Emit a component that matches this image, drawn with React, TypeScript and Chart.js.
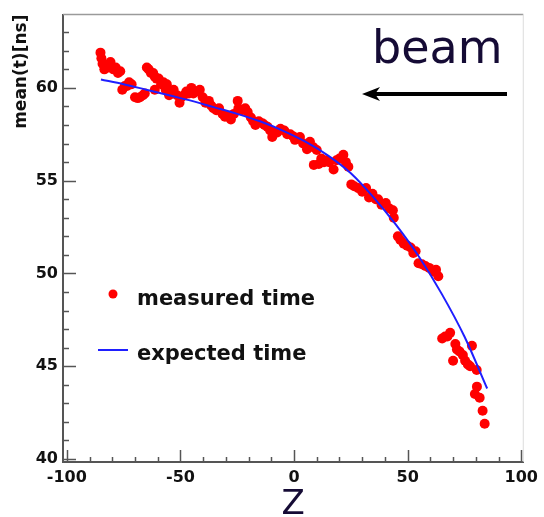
import { useEffect, useRef } from 'react';
import { Chart, registerables } from 'chart.js';

Chart.register(...registerables);

// ---- data ----
const zMeasured = [
  -85.2, -84.8, -84.3, -83.5, -82.5, -81.5, -80.8, -79.5, -78.5, -77.5, -76.5, -75.6, -74.5, -73.5, -72.6, -71.5,
  -70, -68.8, -67.8, -66.5, -65.7, -64.8, -64, -63, -62, -61.3, -60.5, -61.3, -59.6, -58.5, -57.5, -56.5,
  -56, -55, -54, -53, -51.5, -50.4, -49.6, -48.5, -47.4, -46.3, -45.2, -44.3, -43, -41.5, -40.2, -39,
  -37.5, -36.5, -35.5, -34.2, -33, -31.5, -30.4, -29, -27.8, -26.5, -24.8, -24.5, -23, -21.5, -20.4, -19,
  -18, -17, -15.5, -14, -13, -11.7, -10.5, -9.6, -8.5, -7.4, -6, -4.3, -3, -1.7, -0.5, 0.4,
  1.5, 2.6, 4, 5.7, 7, 8.5, 8.7, 10, 10.9, 12, 13.2, 14.3, 15.5, 17.4, 18.7, 20,
  21.7, 22.8, 23.9, 25.2, 26.5, 28.3, 30, 31.7, 33, 34.5, 36, 37, 38.5, 40.4, 42, 43.5,
  43.9, 45.7, 46.8, 48.3, 49.8, 51.3, 52.5, 53.5, 54.8, 56.3, 57.8, 59.5, 61.3, 62.5, 63.5, 65.2,
  66.5, 67.5, 68.7, 70, 71, 71.7, 72.8, 74.3, 75.3, 76.5, 77.5, 78.3, 79.6, 80.4, 80.5, 81.7,
  83, 83.9,
];
const tMeasured = [
  61.9, 61.6, 61.3, 61.0, 61.2, 61.1, 61.4, 61.0, 61.1, 60.8, 60.9, 59.9, 60.1, 60.1, 60.3, 60.2,
  59.5, 59.45, 59.5, 59.6, 59.7, 61.1, 61.0, 60.8, 60.8, 60.6, 60.5, 59.9, 60.5, 60.2, 60.3, 59.9,
  60.2, 59.6, 59.8, 59.9, 59.6, 59.2, 59.5, 59.6, 59.8, 59.7, 60.0, 59.7, 59.8, 59.9, 59.5, 59.2,
  59.3, 59.05, 58.9, 58.8, 58.9, 58.6, 58.45, 58.5, 58.3, 58.6, 59.3, 58.9, 58.8, 58.9, 58.7, 58.4,
  58.2, 58.0, 58.2, 58.1, 58.0, 57.9, 57.7, 57.35, 57.6, 57.6, 57.8, 57.7, 57.5, 57.5, 57.4, 57.2,
  57.3, 57.35, 57.0, 56.7, 57.1, 56.8, 55.85, 56.65, 55.9, 56.2, 56.0, 56.1, 56.0, 55.6, 56.1, 56.2,
  56.4, 56.0, 55.75, 54.8, 54.7, 54.6, 54.4, 54.6, 54.1, 54.3, 54.0, 54.0, 53.7, 53.8, 53.5, 53.4,
  53.0, 52.0, 51.8, 51.6, 51.5, 51.4, 51.1, 51.2, 50.55, 50.5, 50.4, 50.3, 50.1, 50.2, 49.85, 46.5,
  46.6, 46.6, 46.8, 45.3, 46.2, 45.9, 45.8, 45.6, 45.3, 45.1, 45.0, 46.1, 43.5, 44.8, 43.9, 43.3,
  42.6, 41.9,
];
const zExpected = [-85, -75, -65, -55, -45, -35, -25, -15, -5, 5, 15, 25, 35, 45, 55, 65, 75, 85];
const tExpected = [60.45, 60.2, 59.9, 59.6, 59.3, 58.95, 58.6, 58.2, 57.7, 57.1, 56.35, 55.4, 54.1, 52.6, 50.9, 48.9, 46.6, 43.8];
const xTickValues = [-100, -50, 0, 50, 100];
const yTickValues = [40, 45, 50, 55, 60];
const measuredLabel = 'measured time';
const expectedLabel = 'expected time';
const xTitle = 'Z';
const yTitle = 'mean(t)[ns]';
const beamLabel = 'beam';

const X_MIN = -101.7;
const X_MAX = 100.9;
const Y_MIN = 39.84;
const Y_MAX = 63.95;

const RED = '#ff0000';
const BLUE = '#1f1fff';
const NAVY = '#150b35';
const TICK_FONT = { family: '"DejaVu Sans"', size: 16, weight: 'bold' as const };

const decorPlugin = {
  id: 'decor',
  afterDraw(chart: any) {
    const { ctx, chartArea } = chart;
    const xs = chart.scales.x;
    const ys = chart.scales.y;
    const { left, right, top, bottom } = chartArea;
    ctx.save();
    // frame top / right
    ctx.strokeStyle = '#9a9a9a';
    ctx.lineWidth = 1.5;
    ctx.beginPath();
    ctx.moveTo(left, top);
    ctx.lineTo(right, top);
    ctx.stroke();
    ctx.strokeStyle = '#dcdcdc';
    ctx.lineWidth = 1;
    ctx.beginPath();
    ctx.moveTo(right, top);
    ctx.lineTo(right, bottom);
    ctx.stroke();
    // inward tick marks
    ctx.strokeStyle = '#555';
    ctx.lineWidth = 1.5;
    for (let v = -100; v <= 100; v += 10) {
      const px = Math.round(xs.getPixelForValue(v)) + 0.5;
      const len = v % 50 === 0 ? 12 : 5;
      ctx.beginPath();
      ctx.moveTo(px, bottom);
      ctx.lineTo(px, bottom - len);
      ctx.stroke();
    }
    for (let v = 40; v <= 63; v += 1) {
      const py = Math.round(ys.getPixelForValue(v)) + 0.5;
      const len = v % 5 === 0 ? 13 : 6;
      ctx.beginPath();
      ctx.moveTo(left, py);
      ctx.lineTo(left + len, py);
      ctx.stroke();
    }
    // legend
    ctx.fillStyle = RED;
    ctx.beginPath();
    ctx.arc(113, 294, 4.5, 0, Math.PI * 2);
    ctx.fill();
    ctx.strokeStyle = BLUE;
    ctx.lineWidth = 2;
    ctx.beginPath();
    ctx.moveTo(98, 350);
    ctx.lineTo(128, 350);
    ctx.stroke();
    ctx.fillStyle = '#111';
    ctx.font = 'bold 21px "DejaVu Sans"';
    ctx.textAlign = 'left';
    ctx.textBaseline = 'alphabetic';
    ctx.fillText(chart.data.datasets[1].label, 137, 305);
    ctx.fillText(chart.data.datasets[0].label, 137, 360);
    // beam annotation
    ctx.fillStyle = NAVY;
    ctx.font = '46px "DejaVu Sans"';
    ctx.fillText(beamLabel, 372, 63);
    ctx.strokeStyle = '#000';
    ctx.lineWidth = 4;
    ctx.beginPath();
    ctx.moveTo(507, 94);
    ctx.lineTo(372, 94);
    ctx.stroke();
    ctx.fillStyle = '#000';
    ctx.beginPath();
    ctx.moveTo(362, 94);
    ctx.lineTo(380, 87);
    ctx.lineTo(375, 94);
    ctx.lineTo(380, 101);
    ctx.closePath();
    ctx.fill();
    ctx.restore();
  },
};

export default function App() {
  const ref = useRef<HTMLCanvasElement>(null);
  useEffect(() => {
    document.body.style.margin = '0';
    const canvas = ref.current!;
    const chart = new Chart(canvas, {
      type: 'scatter',
      data: {
        datasets: [
          {
            type: 'line',
            label: expectedLabel,
            data: zExpected.map((z, i) => ({ x: z, y: tExpected[i] })),
            borderColor: BLUE,
            borderWidth: 2,
            pointRadius: 0,
            fill: false,
            cubicInterpolationMode: 'monotone',
            order: 0,
          } as any,
          {
            type: 'scatter',
            label: measuredLabel,
            data: zMeasured.map((z, i) => ({ x: z, y: tMeasured[i] })),
            backgroundColor: RED,
            borderWidth: 0,
            pointRadius: 5,
            order: 1,
          },
        ],
      },
      options: {
        responsive: false,
        animation: false,
        devicePixelRatio: 1,
        layout: { padding: { left: 0, top: 12, right: 15, bottom: 0 } },
        plugins: { legend: { display: false }, tooltip: { enabled: false } },
        scales: {
          x: {
            type: 'linear',
            min: X_MIN,
            max: X_MAX,
            afterBuildTicks: (s: any) => {
              s.ticks = xTickValues.map((v) => ({ value: v }));
            },
            afterFit: (s: any) => {
              s.height = 55;
            },
            grid: { drawOnChartArea: false, drawTicks: false },
            border: { display: true, color: '#555', width: 2 },
            ticks: {
              autoSkip: false,
              maxRotation: 0,
              minRotation: 0,
              padding: 6,
              color: '#111',
              font: TICK_FONT,
            },
            title: {
              display: true,
              text: xTitle,
              color: NAVY,
              font: { family: '"DejaVu Sans"', size: 34, lineHeight: 0.7 },
              padding: { top: 0, bottom: 0 },
            },
          },
          y: {
            type: 'linear',
            min: Y_MIN,
            max: Y_MAX,
            afterBuildTicks: (s: any) => {
              s.ticks = yTickValues.map((v) => ({ value: v }));
            },
            afterFit: (s: any) => {
              s.width = 63;
            },
            grid: { drawOnChartArea: false, drawTicks: false },
            border: { display: true, color: '#555', width: 2 },
            ticks: { padding: 5, color: '#111', font: TICK_FONT },
            title: {
              display: true,
              text: yTitle,
              align: 'end',
              color: '#111',
              font: { family: '"DejaVu Sans"', size: 17, weight: 'bold' },
              padding: { top: 11, bottom: 0 },
            },
          },
        },
      },
      plugins: [decorPlugin],
    });
    return () => chart.destroy();
  }, []);
  return (
    <div style={{ width: 544, height: 517 }}>
      <canvas ref={ref} width={544} height={517} style={{ display: 'block' }} />
    </div>
  );
}
